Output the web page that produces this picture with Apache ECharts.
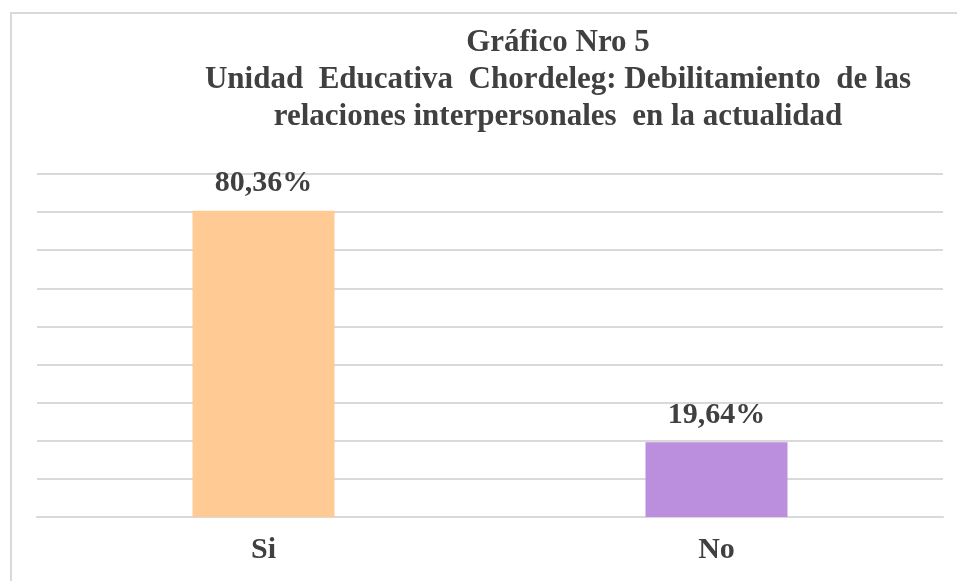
<!DOCTYPE html>
<html>
<head>
<meta charset="utf-8">
<script src="https://cdn.jsdelivr.net/npm/echarts@6/dist/echarts.min.js"></script>
<style>
	body { margin: 0; background: #fff; overflow: hidden; }
	#frame { position: absolute; left: 10px; top: 12px; width: 1000px; height: 1000px; border: 2px solid #d9d9d9; }
	#chart { position: absolute; left: 0; top: 0; width: 957px; height: 581px; }
</style>
</head>
<body>
<div id="frame"></div>
<div id="chart"></div>
<script>
var categories = ['Si', 'No'];
var percentValues = [80.36, 19.64];
var barColors = ['#ffca94', '#bb8fdd'];
var titleLines = [
	'Gráfico Nro 5',
	'Unidad  Educativa  Chordeleg: Debilitamiento  de las',
	'relaciones interpersonales  en la actualidad'
];

window.onload = function(){

var myChart = echarts.init(document.querySelector('#chart'));

var serif = 'Liberation Serif';

var option = {
	title: {
		text: titleLines.join('\n'),
		left: 553,
		top: 19,
		textAlign: 'center',
		textStyle: {
			fontFamily: serif,
			fontWeight: 'bold',
			fontSize: 31,
			lineHeight: 37,
			color: '#404040'
		}
	},
	grid: {
		left: 37,
		right: 14,
		top: 174,
		bottom: 64
	},
	xAxis: {
		type: 'category',
		data: categories,
		axisLine: { lineStyle: { color: '#d9d9d9', width: 2 } },
		axisTick: { show: false },
		axisLabel: {
			margin: 18,
			fontFamily: serif,
			fontWeight: 'bold',
			fontSize: 30,
			color: '#404040'
		}
	},
	yAxis: {
		type: 'value',
		min: 0,
		max: 90,
		interval: 10,
		axisLabel: { show: false },
		axisLine: { show: false },
		axisTick: { show: false },
		splitLine: { lineStyle: { color: '#d9d9d9', width: 2 } }
	},
	series: [{
		type: 'bar',
		barWidth: 142,
		data: percentValues.map(function(v, i){
			return { value: v, itemStyle: { color: barColors[i] } };
		}),
		label: {
			show: true,
			position: 'top',
			distance: 12,
			fontFamily: serif,
			fontWeight: 'bold',
			fontSize: 30,
			color: '#404040',
			formatter: function(p){
				return p.value.toFixed(2).replace('.', ',') + '%';
			}
		}
	}],
	animation: false
};

myChart.setOption(option);
}
</script>
</body>
</html>
